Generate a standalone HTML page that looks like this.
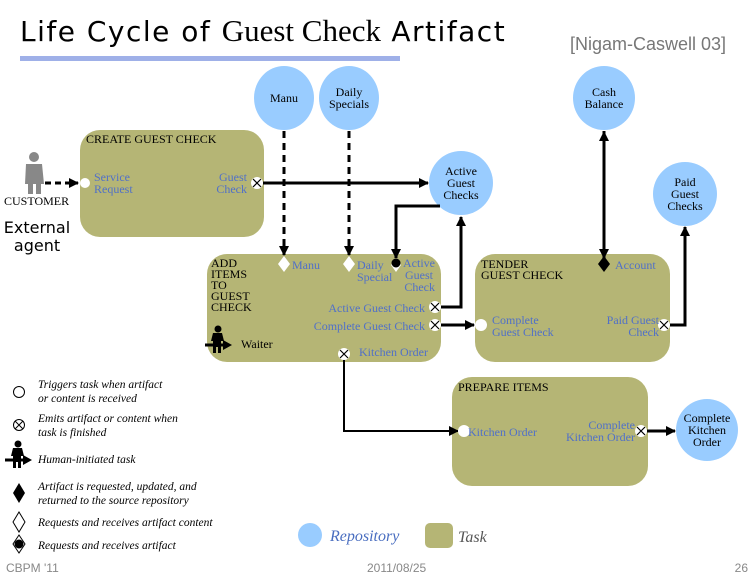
<!DOCTYPE html>
<html><head><meta charset="utf-8"><style>
html,body{margin:0;padding:0;background:#fff;}
svg{display:block;}
.s{font-family:"Liberation Serif",serif;}
.b{fill:#5070c8;}
.k{fill:#000;}
.lg{font-family:"Liberation Serif",serif;font-style:italic;font-size:11.5px;fill:#000;}
</style></head><body>
<svg width="756" height="576" viewBox="0 0 756 576" xmlns="http://www.w3.org/2000/svg">
<defs>
<marker id="a" markerWidth="10" markerHeight="10" refX="9" refY="5" orient="auto" markerUnits="userSpaceOnUse"><path d="M0,0 L10,5 L0,10 z" fill="#000"/></marker>
<g id="x"><circle r="6" fill="#fff"/><path d="M-4,-4L4,4M4,-4L-4,4" stroke="#000" stroke-width="1.2"/></g>
<g id="w"><circle cx="0" cy="-16" r="3.5" fill="#000"/><path d="M-5,-12 h9 l2,8 h-3 v12 h-3 v-6 h-2 v6 h-3 v-12 h-2z" fill="#000"/><path d="M-13,0 h20" stroke="#000" stroke-width="3"/><path d="M5,-5 L14,0 L5,5z" fill="#000"/></g>
</defs>

<!-- title -->
<text x="20" y="41" font-family="'DejaVu Sans',sans-serif" font-size="28" letter-spacing="1.5">Life Cycle of <tspan font-family="'Liberation Serif',serif" font-size="31" letter-spacing="0">Guest Check</tspan> Artifact</text>
<rect x="20" y="56" width="380" height="5" fill="#9fb0e8"/>
<text x="570" y="50" font-family="'Liberation Sans',sans-serif" font-size="18" fill="#777">[Nigam-Caswell 03]</text>

<!-- repositories -->
<g fill="#99ccff">
<ellipse cx="284" cy="98" rx="30" ry="32"/>
<ellipse cx="349" cy="98" rx="30" ry="32"/>
<ellipse cx="604" cy="98" rx="31" ry="32"/>
<circle cx="461" cy="183" r="32"/>
<circle cx="685" cy="194" r="32"/>
<circle cx="707" cy="430" r="31"/>
</g>
<g class="s" font-size="12" text-anchor="middle">
<text x="284" y="102">Manu</text>
<text x="349" y="96">Daily</text><text x="349" y="108">Specials</text>
<text x="604" y="96">Cash</text><text x="604" y="108">Balance</text>
<text x="461" y="175">Active</text><text x="461" y="187">Guest</text><text x="461" y="199">Checks</text>
<text x="685" y="186">Paid</text><text x="685" y="198">Guest</text><text x="685" y="210">Checks</text>
<text x="707" y="422">Complete</text><text x="707" y="434">Kitchen</text><text x="707" y="446">Order</text>
</g>

<!-- tasks -->
<g fill="#b5b575">
<rect x="80" y="130" width="184" height="107" rx="20"/>
<rect x="207" y="254" width="234" height="108" rx="20"/>
<rect x="475" y="254" width="195" height="108" rx="20"/>
<rect x="452" y="377" width="196" height="109" rx="20"/>
</g>

<!-- connectors -->
<g stroke="#000" stroke-width="3" fill="none">
<path d="M45,183 H78" stroke-dasharray="6,4" marker-end="url(#a)"/>
<path d="M263,183 H428" marker-end="url(#a)"/>
<path d="M284,131 V255" stroke-dasharray="7,5" marker-end="url(#a)"/>
<path d="M349,131 V255" stroke-dasharray="7,5" marker-end="url(#a)"/>
<path d="M440,206 H396 V258" marker-end="url(#a)"/>
<path d="M441,307 H461 V217" marker-end="url(#a)"/>
<path d="M441,325 H474" marker-end="url(#a)"/>
<path d="M344,359 V431 H458" stroke-width="2" marker-end="url(#a)"/>
<path d="M604,131 V258" marker-end="url(#a)"/>
<path d="M669,325 H685 V227" marker-end="url(#a)"/>
<path d="M647,431 H675" marker-end="url(#a)"/>
</g>
<path d="M604,131 l-5,10 h10z" fill="#000"/>

<!-- ports -->
<circle cx="85" cy="183" r="5" fill="#fff"/>
<use href="#x" x="257" y="183"/>
<path d="M284,256 l6,8 l-6,8 l-6,-8z" fill="#fff"/>
<path d="M349,256 l6,8 l-6,8 l-6,-8z" fill="#fff"/>
<path d="M396,258 l5,7 l-5,7 l-5,-7z" fill="#fff"/>
<circle cx="396" cy="263" r="4.5" fill="#000"/>
<use href="#x" x="435" y="307"/>
<use href="#x" x="435" y="325"/>
<use href="#x" x="344" y="354"/>
<circle cx="481" cy="325" r="6" fill="#fff"/>
<path d="M604,256 l6,8 l-6,8 l-6,-8z" fill="#000"/>
<use href="#x" x="664" y="325"/>
<circle cx="464" cy="431" r="6" fill="#fff"/>
<use href="#x" x="641" y="431"/>

<!-- task labels -->
<g class="s" font-size="12">
<text x="86" y="143" class="k">CREATE GUEST CHECK</text>
<text x="94" y="181" class="b">Service</text><text x="94" y="193" class="b">Request</text>
<text x="247" y="181" class="b" text-anchor="end">Guest</text><text x="247" y="193" class="b" text-anchor="end">Check</text>
<text x="211" y="267">ADD</text><text x="211" y="278">ITEMS</text><text x="211" y="289">TO</text><text x="211" y="300">GUEST</text><text x="211" y="311">CHECK</text>
<text x="292" y="269" class="b">Manu</text>
<text x="357" y="269" class="b">Daily</text><text x="357" y="281" class="b">Special</text>
<text x="435" y="267" class="b" text-anchor="end">Active</text><text x="433" y="279" class="b" text-anchor="end">Guest</text><text x="435" y="291" class="b" text-anchor="end">Check</text>
<text x="425" y="312" class="b" text-anchor="end">Active Guest Check</text>
<text x="425" y="330" class="b" text-anchor="end">Complete Guest Check</text>
<text x="428" y="356" class="b" text-anchor="end">Kitchen Order</text>
<text x="241" y="348" class="k">Waiter</text>
<text x="481" y="268">TENDER</text><text x="481" y="279">GUEST CHECK</text>
<text x="615" y="269" class="b">Account</text>
<text x="492" y="324" class="b">Complete</text><text x="492" y="336" class="b">Guest Check</text>
<text x="659" y="324" class="b" text-anchor="end">Paid Guest</text><text x="659" y="336" class="b" text-anchor="end">Check</text>
<text x="458" y="391">PREPARE ITEMS</text>
<text x="468" y="436" class="b">Kitchen Order</text>
<text x="635" y="429" class="b" text-anchor="end">Complete</text><text x="635" y="441" class="b" text-anchor="end">Kitchen Order</text>
<text x="4" y="205" font-size="12">CUSTOMER</text>
</g>
<use href="#w" x="218" y="345"/>

<!-- customer -->
<g fill="#888">
<circle cx="34" cy="157" r="5"/>
<path d="M26,164 h16 l2,20 h-3 v10 h-5 v-10 h-3 v10 h-5 v-10 h-3z"/>
</g>
<text x="37" y="233" font-family="'DejaVu Sans',sans-serif" font-size="16" text-anchor="middle">External</text>
<text x="37" y="251" font-family="'DejaVu Sans',sans-serif" font-size="16" text-anchor="middle">agent</text>

<!-- legend -->
<circle cx="19" cy="392" r="5.5" fill="#fff" stroke="#000"/>
<text class="lg" x="38" y="388">Triggers task when artifact</text><text class="lg" x="38" y="402">or content is received</text>
<circle cx="19" cy="425" r="5.5" fill="#fff" stroke="#000"/><path d="M15,421L23,429M23,421L15,429" stroke="#000"/>
<text class="lg" x="38" y="422">Emits artifact or content when</text><text class="lg" x="38" y="436">task is finished</text>
<use href="#w" x="18" y="460"/>
<text class="lg" x="38" y="463">Human-initiated task</text>
<path d="M19,483 l6,10 l-6,10 l-6,-10z" fill="#000"/>
<text class="lg" x="38" y="490">Artifact is requested, updated, and</text><text class="lg" x="38" y="504">returned to the source repository</text>
<path d="M19,512 l6,10 l-6,10 l-6,-10z" fill="#fff" stroke="#000"/>
<text class="lg" x="38" y="526">Requests and receives artifact content</text>
<path d="M19,535 l6,9 l-6,9 l-6,-9z" fill="#fff" stroke="#000"/><circle cx="19" cy="544" r="4.5" fill="#000"/>
<text class="lg" x="38" y="549">Requests and receives artifact</text>

<circle cx="310" cy="535" r="12" fill="#99ccff"/>
<text x="330" y="541" font-family="'Liberation Serif',serif" font-style="italic" font-size="16" fill="#4a6ec0">Repository</text>
<rect x="425" y="523" width="28" height="25" rx="5" fill="#b5b575"/>
<text x="458" y="542" font-family="'Liberation Serif',serif" font-style="italic" font-size="16" fill="#555">Task</text>

<text x="6" y="572" font-family="'Liberation Sans',sans-serif" font-size="12" fill="#888">CBPM '11</text>
<text x="367" y="572" font-family="'Liberation Sans',sans-serif" font-size="12" fill="#888">2011/08/25</text>
<text x="748" y="572" font-family="'Liberation Sans',sans-serif" font-size="12" fill="#888" text-anchor="end">26</text>
</svg>
</body></html>
